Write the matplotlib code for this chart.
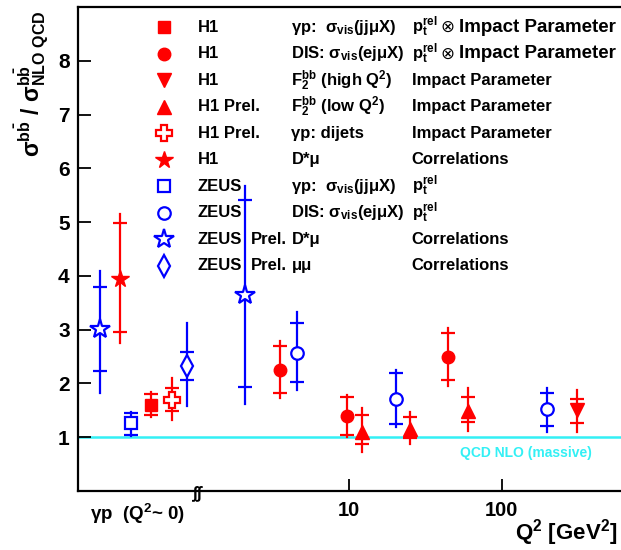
import matplotlib
matplotlib.use("Agg")
import matplotlib.pyplot as plt

plt.rcParams['font.family'] = ['Liberation Sans', 'DejaVu Sans']
plt.rcParams['font.weight'] = 'bold'
plt.rcParams['mathtext.fontset'] = 'custom'
plt.rcParams['mathtext.rm'] = 'Liberation Sans:bold'
plt.rcParams['mathtext.it'] = 'Liberation Sans:bold'
plt.rcParams['mathtext.bf'] = 'Liberation Sans:bold'

RED = '#ff0000'
BLUE = '#0000ff'
CYAN = '#33f0f5'

# x = log10(Q2); the gamma-p points sit left of the axis break
# each set: x, y, stat (low, high), total (low, high)
h1_gp_x = [-0.303]
h1_gp_y = [1.60]
h1_gp_stat = [(1.42, 1.80)]
h1_gp_tot = [(1.37, 1.85)]

h1_dis_x = [0.545, 0.983, 1.650]
h1_dis_y = [2.25, 1.39, 2.50]
h1_dis_stat = [(1.83, 2.70), (1.04, 1.75), (2.06, 2.94)]
h1_dis_tot = [(1.73, 2.78), (1.00, 1.78), (1.95, 3.03)]

h1_f2hi_x = [2.490]
h1_f2hi_y = [1.50]
h1_f2hi_stat = [(1.26, 1.72)]
h1_f2hi_tot = [(1.10, 1.88)]

h1_f2lo_x = [1.081, 1.398, 1.780]
h1_f2lo_y = [1.10, 1.16, 1.49]
h1_f2lo_stat = [(0.87, 1.41), (0.98, 1.38), (1.29, 1.75)]
h1_f2lo_tot = [(0.73, 1.55), (0.88, 1.47), (1.12, 1.91)]

h1_dij_x = [-0.165]
h1_dij_y = [1.70]
h1_dij_stat = [(1.49, 1.91)]
h1_dij_tot = [(1.32, 2.10)]

h1_dmu_x = [-0.506]
h1_dmu_y = [3.95]
h1_dmu_stat = [(2.95, 4.99)]
h1_dmu_tot = [(2.76, 5.16)]

zeus_gp_x = [-0.434]
zeus_gp_y = [1.26]
zeus_gp_stat = [(1.05, 1.45)]
zeus_gp_tot = [(1.03, 1.47)]

zeus_dis_x = [0.659, 1.306, 2.295]
zeus_dis_y = [2.57, 1.71, 1.52]
zeus_dis_stat = [(2.02, 3.12), (1.24, 2.19), (1.21, 1.82)]
zeus_dis_tot = [(1.88, 3.33), (1.19, 2.25), (1.10, 1.91)]

zeus_dmu_x = [-0.636, 0.316]
zeus_dmu_y = [3.01, 3.65]
zeus_dmu_stat = [(2.23, 3.79), (1.94, 5.41)]
zeus_dmu_tot = [(1.82, 4.10), (1.62, 5.67)]

zeus_mumu_x = [-0.067]
zeus_mumu_y = [2.33]
zeus_mumu_stat = [(2.06, 2.59)]
zeus_mumu_tot = [(1.58, 3.13)]

exp_labels = ['H1', 'H1', 'H1', 'H1 Prel.', 'H1 Prel.', 'H1',
              'ZEUS', 'ZEUS', 'ZEUS', 'ZEUS']
prel_flags = [False, False, False, False, False, False,
              False, False, True, True]
meas_labels = [r'γp:  σ$_{\mathrm{vis}}$(jjμX)',
               r'DIS: σ$_{\mathrm{vis}}$(ejμX)',
               r'F$_{\mathrm{2}}^{\mathrm{bb}}$ (high Q$^{\mathrm{2}}$)',
               r'F$_{\mathrm{2}}^{\mathrm{bb}}$ (low Q$^{\mathrm{2}}$)',
               'γp: dijets',
               'D*μ',
               r'γp:  σ$_{\mathrm{vis}}$(jjμX)',
               r'DIS: σ$_{\mathrm{vis}}$(ejμX)',
               'D*μ',
               'μμ']
PT = r'p$_{\mathrm{t}}^{\mathrm{rel}}$'
method_labels = [PT + '|⊗|Impact Parameter',
                 PT + '|⊗|Impact Parameter',
                 'Impact Parameter', 'Impact Parameter', 'Impact Parameter',
                 'Correlations', PT, PT, 'Correlations', 'Correlations']

series = [
    (h1_gp_x, h1_gp_y, h1_gp_stat, h1_gp_tot, RED, 's', True, 9),
    (h1_dis_x, h1_dis_y, h1_dis_stat, h1_dis_tot, RED, 'o', True, 9),
    (h1_f2hi_x, h1_f2hi_y, h1_f2hi_stat, h1_f2hi_tot, RED, 'v', True, 9.5),
    (h1_f2lo_x, h1_f2lo_y, h1_f2lo_stat, h1_f2lo_tot, RED, '^', True, 9.5),
    (h1_dij_x, h1_dij_y, h1_dij_stat, h1_dij_tot, RED, 'P', False, 11),
    (h1_dmu_x, h1_dmu_y, h1_dmu_stat, h1_dmu_tot, RED, '*', True, 13),
    (zeus_gp_x, zeus_gp_y, zeus_gp_stat, zeus_gp_tot, BLUE, 's', False, 9),
    (zeus_dis_x, zeus_dis_y, zeus_dis_stat, zeus_dis_tot, BLUE, 'o', False, 9),
    (zeus_dmu_x, zeus_dmu_y, zeus_dmu_stat, zeus_dmu_tot, BLUE, '*', False, 15),
    (zeus_mumu_x, zeus_mumu_y, zeus_mumu_stat, zeus_mumu_tot, BLUE, 'd', False, 11),
]

fig = plt.figure(figsize=(6.21, 5.5), dpi=100)
ax = fig.add_axes([78 / 621, 1 - 491 / 550, 1 - 78 / 621 + 0.002, 484 / 550])
ax.set_xlim(-0.78, 2.79)
ax.set_ylim(0, 9)

ax.axhline(1.0, color=CYAN, lw=1.8, zorder=1)
ax.text(2.16, 0.70, 'QCD NLO (massive)', color=CYAN, fontsize=10,
        ha='center', va='center')

for xs, ys, stat, tot, col, mk, filled, ms in series:
    for x, y, (slo, shi), (tlo, thi) in zip(xs, ys, stat, tot):
        ax.plot([x, x], [tlo, thi], color=col, lw=1.6, zorder=2)
        ax.plot([x, x], [slo, shi], ls='none', marker='_', ms=10,
                mew=1.6, color=col, zorder=2)
    ax.plot(xs, ys, ls='none', marker=mk, ms=ms, color=col,
            mfc=col if filled else 'white', mec=col,
            mew=1.0 if filled else 1.6, zorder=3)


def px(x):
    # pixel column of the figure -> axes fraction
    return (x - 78) / 543


# legend block
row_top = 1 - (27.3 - 7) / 484
row_step = 26.5 / 484
fs = 12
for i, (xs, ys, stat, tot, col, mk, filled, ms) in enumerate(series):
    yy = row_top - i * row_step
    ax.plot([px(164.3)], [yy], transform=ax.transAxes, ls='none',
            marker=mk, ms=ms, color=col, mfc=col if filled else 'white',
            mec=col, mew=1.0 if filled else 1.6, clip_on=False)
    ax.text(px(197.7), yy, exp_labels[i], transform=ax.transAxes,
            fontsize=fs, va='center', ha='left')
    if prel_flags[i]:
        ax.text(px(250), yy, 'Prel.', transform=ax.transAxes,
                fontsize=fs, va='center', ha='left')
    ax.text(px(291), yy, meas_labels[i], transform=ax.transAxes,
            fontsize=fs, va='center', ha='left')
    parts = method_labels[i].split('|')
    ax.text(px(411), yy, parts[0], transform=ax.transAxes,
            fontsize=fs, va='center', ha='left')
    if len(parts) == 3:
        ax.text(px(447), yy, parts[1], transform=ax.transAxes,
                fontsize=fs, va='center', ha='center',
                family='DejaVu Sans', fontweight='normal')
        ax.text(px(458), yy, parts[2], transform=ax.transAxes,
                fontsize=13.5, va='center', ha='left')

ax.set_xticks([1, 2])
ax.set_xticklabels(['10', '100'])
ax.set_yticks([1, 2, 3, 4, 5, 6, 7, 8])
ax.tick_params(axis='both', direction='in', length=9, width=1.3)
ax.tick_params(axis='x', labelsize=14.5, pad=7)
ax.tick_params(axis='y', labelsize=15, pad=6)
for lab in ax.get_xticklabels() + ax.get_yticklabels():
    lab.set_fontweight('bold')

ax.spines['right'].set_visible(False)
for s in ['left', 'top', 'bottom']:
    ax.spines[s].set_linewidth(1.6)

ax.text(1 + (90 - 349.3) / 152.4, 1 + (437 - 513) / 53.57,
        r'γp  (Q$^{\mathrm{2}}$~ 0)', fontsize=13.5,
        ha='left', va='center', clip_on=False)
ax.text(0.007, -0.06, r'$\int\int$', fontsize=12, ha='center', va='center',
        zorder=5, clip_on=False)

fig.text(617 / 621, 1 - 533 / 550, r'Q$^{\mathrm{2}}$ [GeV$^{\mathrm{2}}$]',
         fontsize=16, ha='right', va='center')
fig.text(32 / 621, 1 - 10 / 550,
         r'σ$^{\mathrm{b\bar{b}}}$ / σ$^{\mathrm{b\bar{b}}}_{\mathrm{NLO\ QCD}}$',
         fontsize=16.5, rotation=90, ha='center', va='top')

fig.savefig('out.png', dpi=100)
